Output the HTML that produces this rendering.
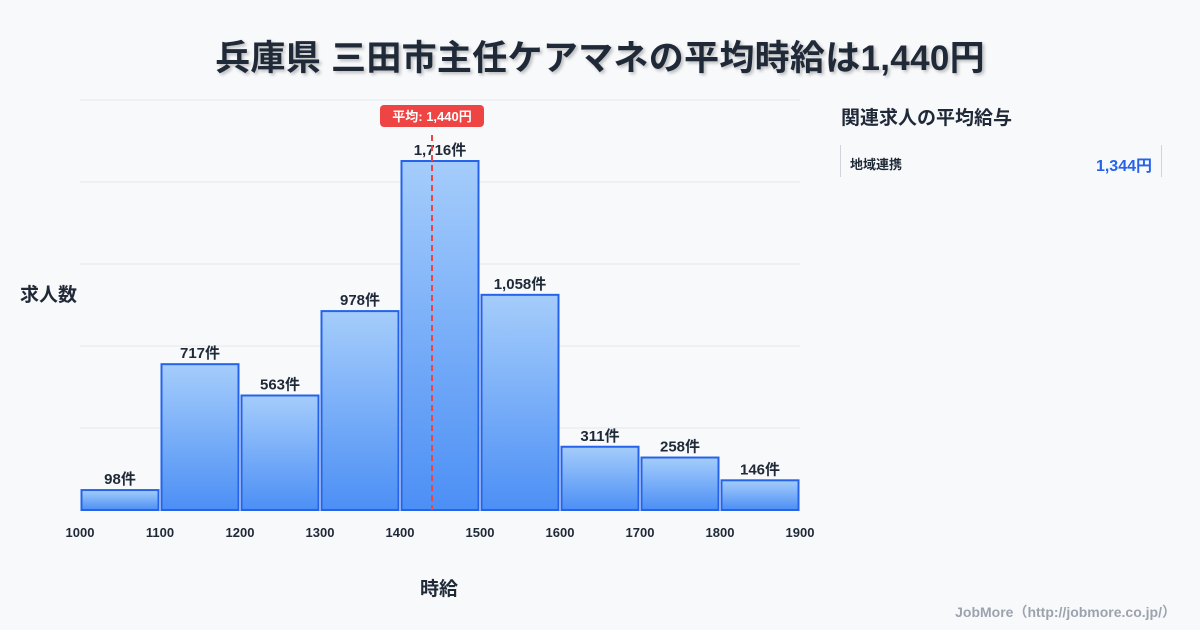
<!DOCTYPE html>
<html><head><meta charset="utf-8"><style>
body{margin:0;width:1200px;height:630px;background:#f8f9fb;font-family:"Liberation Sans","Noto Sans CJK JP",sans-serif;overflow:hidden;position:relative;color:#1f2937}
.t{position:absolute;font-weight:bold}
</style></head><body>
<div class="t" style="left:0;width:1200px;top:30px;text-align:center;font-size:35px;letter-spacing:0.3px;color:#1f2937;text-shadow:2px 2px 3px rgba(0,0,0,0.25)">兵庫県 三田市主任ケアマネの平均時給は1,440円</div>
<div class="t" style="left:20px;top:280px;font-size:19px">求人数</div>
<div class="t" style="left:420px;top:574px;font-size:19px">時給</div>
<div class="t" style="left:841px;top:103px;font-size:19px">関連求人の平均給与</div>
<div style="position:absolute;left:840px;top:145px;width:320px;height:32px;border-left:1px solid #d1d5db;border-right:1px solid #d1d5db">
<span class="t" style="left:9px;top:9px;font-size:13px">地域連携</span>
<span class="t" style="right:9px;top:7px;font-size:16px;color:#2563eb">1,344円</span></div>
<div class="t" style="right:24px;top:602px;font-size:14px;color:#9ca3af">JobMore（http://jobmore.co.jp/）</div>
<svg id="c" width="1200" height="630" style="position:absolute;left:0;top:0">
<defs><linearGradient id="g" x1="0" y1="0" x2="0" y2="1"><stop offset="0" stop-color="#a5cdfb"/><stop offset="1" stop-color="#4c8ff5"/></linearGradient></defs>
</svg>
<script>
const binStarts=[1000,1100,1200,1300,1400,1500,1600,1700,1800];
const counts=[98,717,563,978,1716,1058,311,258,146];
const tickLabels=[1000,1100,1200,1300,1400,1500,1600,1700,1800,1900];
const meanWage=1440;
const yMax=2016;
const svg=document.getElementById('c');const NS='http://www.w3.org/2000/svg';
const x=v=>80+(v-1000)*0.8;const y=v=>510-v/yMax*410;
function mk(t,a){const e=document.createElementNS(NS,t);for(const k in a)e.setAttribute(k,a[k]);svg.appendChild(e);return e;}
for(let i=0;i<=5;i++){const g=mk('line',{x1:80,x2:800,y1:510-i*82,y2:510-i*82,stroke:'#e5e7eb'});

}
binStarts.forEach((b,i)=>{
const r=mk('rect',{x:x(b)+1.5,y:y(counts[i]),width:77,height:510-y(counts[i]),fill:'url(#g)',stroke:'#2563eb','stroke-width':2});


const t=mk('text',{x:x(b)+40,y:y(counts[i])-6,'text-anchor':'middle','font-size':15,'font-weight':'bold',fill:'#1f2937'});
t.textContent=counts[i].toLocaleString('en-US')+'件';

});
tickLabels.forEach(v=>{const t=mk('text',{x:x(v),y:537,'text-anchor':'middle','font-size':13,'font-weight':'bold',fill:'#1f2937'});t.textContent=v;

});
const ml=mk('line',{x1:x(meanWage),x2:x(meanWage),y1:135,y2:510,stroke:'#ef4444','stroke-width':2,'stroke-dasharray':'6,4'});


const mb=mk('rect',{x:x(meanWage)-52,y:105,width:104,height:22,rx:4,fill:'#ef4444'});


const mt=mk('text',{x:x(meanWage),y:121,'text-anchor':'middle','font-size':13,'font-weight':'bold',fill:'#fff'});
mt.textContent='平均: '+meanWage.toLocaleString('en-US')+'円';


</script>
</body></html>
